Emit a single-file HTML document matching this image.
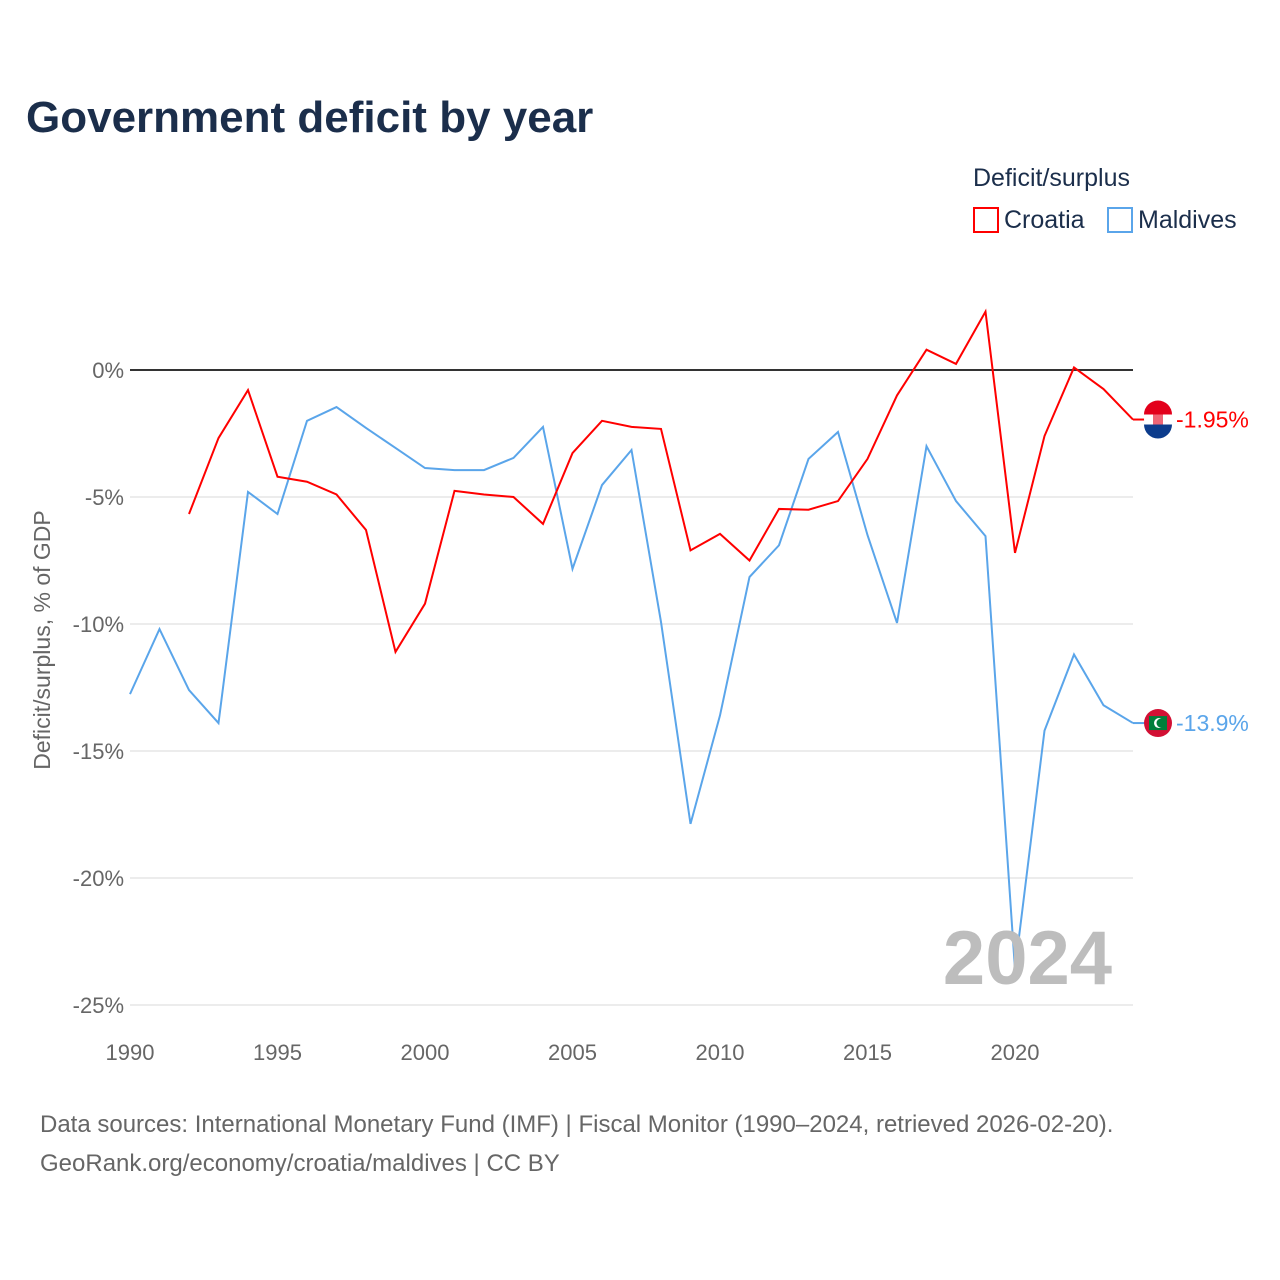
<!DOCTYPE html>
<html><head><meta charset="utf-8"><style>
body{margin:0;background:#fff;font-family:"Liberation Sans",sans-serif;}
</style></head><body>
<svg id="chart" width="1280" height="1280" xmlns="http://www.w3.org/2000/svg" style="display:block">
<text x="26" y="132" font-size="44" font-weight="bold" fill="#1b2e4b">Government deficit by year</text>
<text x="973" y="186" font-size="25" fill="#1b2e4b">Deficit/surplus</text>
<g><rect x="974" y="208" width="24" height="24" fill="none" stroke="#ff0000" stroke-width="2"/><text x="1004" y="228" font-size="25" fill="#1b2e4b">Croatia</text></g>
<g><rect x="1108" y="208" width="24" height="24" fill="none" stroke="#5aa5ea" stroke-width="2"/><text x="1138" y="228" font-size="25" fill="#1b2e4b">Maldives</text></g>
<text transform="translate(50,640) rotate(-90)" text-anchor="middle" font-size="23" fill="#666">Deficit/surplus, % of GDP</text>
<g id="grid"></g><g id="series"></g>
<text x="1112" y="984" text-anchor="end" font-size="76" font-weight="bold" fill="#bdbdbd">2024</text>
<text x="40" y="1132" font-size="24" fill="#666">Data sources: International Monetary Fund (IMF) | Fiscal Monitor (1990–2024, retrieved 2026-02-20).</text>
<text x="40" y="1171" font-size="24" fill="#666">GeoRank.org/economy/croatia/maldives | CC BY</text>
</svg>
<script>
const years=[];for(let y=1990;y<=2024;y++)years.push(y);
const croatia=[null,null,-5.67,-2.68,-0.79,-4.2,-4.4,-4.9,-6.3,-11.1,-9.2,-4.76,-4.9,-5.0,-6.06,-3.27,-2.0,-2.24,-2.32,-7.1,-6.45,-7.5,-5.47,-5.5,-5.16,-3.5,-1.0,0.8,0.24,2.3,-7.2,-2.6,0.1,-0.75,-1.95];
const maldives=[-12.76,-10.2,-12.6,-13.9,-4.8,-5.67,-2.0,-1.46,-2.28,-3.07,-3.86,-3.94,-3.94,-3.46,-2.24,-7.83,-4.53,-3.15,-9.92,-17.87,-13.6,-8.15,-6.9,-3.5,-2.44,-6.5,-9.96,-3.0,-5.16,-6.54,-23.6,-14.2,-11.2,-13.2,-13.9];
const yTicks=[0,-5,-10,-15,-20,-25];
const xTicks=[1990,1995,2000,2005,2010,2015,2020];
const NS="http://www.w3.org/2000/svg";
const X=y=>130+(y-1990)*(1133-130)/34;
const Y=v=>370-v*25.4;
function mk(t,a,p){const e=document.createElementNS(NS,t);for(const k in a)e.setAttribute(k,a[k]);p.appendChild(e);return e;}
const grid=document.getElementById('grid'),ser=document.getElementById('series');
yTicks.forEach(v=>{
 const l=mk('line',{x1:130,x2:1133,y1:Y(v),y2:Y(v),stroke:v===0?'#333':'#e6e6e6','stroke-width':v===0?2:1.5},grid);
 
 
 const t=mk('text',{x:124,y:Y(v)+8,'text-anchor':'end','font-size':22,fill:'#666'},grid);
 t.textContent=v+'%';
 
 
});
xTicks.forEach(v=>{
 const t=mk('text',{x:X(v),y:1060,'text-anchor':'middle','font-size':22,fill:'#666'},grid);
 t.textContent=v;
 
 
});
function line(vals,color,name,label,flag){
 let d='';vals.forEach((v,i)=>{if(v===null)return;d+=(d?'L':'M')+X(years[i])+','+Y(v);});
 const p=mk('path',{d:d,fill:'none',stroke:color,'stroke-width':2},ser);
 
 
 const last=vals[vals.length-1],ly=Y(last);
 mk('line',{x1:1133,x2:1145,y1:ly,y2:ly,stroke:color,'stroke-width':2},ser);
 const g=mk('g',{},ser);
 
 
 if(flag==='hr'){
  mk('circle',{cx:1158,cy:ly,r:14,fill:'#fff'},g);
  mk('path',{d:`M1144,${ly-5}a14,14 0 0 1 28,0z`,fill:'#e3001b'},g);
  mk('path',{d:`M1144,${ly+5}a14,14 0 0 0 28,0z`,fill:'#0c3c8c'},g);
  mk('rect',{x:1153,y:ly-6,width:10,height:11,fill:'#e3001b',opacity:.6},g);
 }else{
  mk('circle',{cx:1158,cy:ly,r:14,fill:'#d21034'},g);
  mk('rect',{x:1149,y:ly-7,width:18,height:14,fill:'#007e3a'},g);
  mk('circle',{cx:1159,cy:ly,r:5,fill:'#fff'},g);
  mk('circle',{cx:1161,cy:ly,r:4.5,fill:'#007e3a'},g);
 }
 const t=mk('text',{x:1176,y:ly+8,'font-size':23,fill:color},ser);
 t.textContent=label;
 
 
}
line(maldives,'#5aa5ea','maldives','-13.9%','mv');
line(croatia,'#ff0000','croatia','-1.95%','hr');
</script>
</body></html>
